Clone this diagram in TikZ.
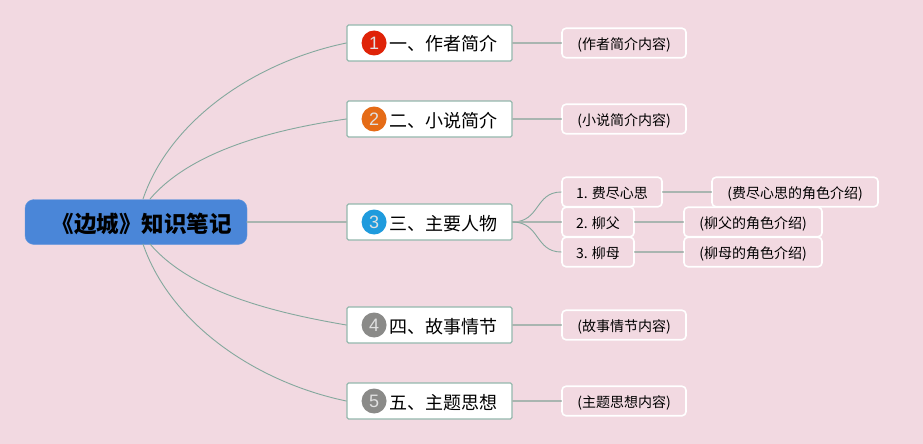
\documentclass[tikz,border=0pt]{standalone}
\usepackage{fontspec}
\setmainfont{Noto Sans CJK SC}
\newfontfamily\badgefont{Liberation Sans}
\usetikzlibrary{positioning}
\definecolor{bgpink}{HTML}{F2D9E1}
\definecolor{rootblue}{HTML}{4A86D8}
\definecolor{curvegray}{HTML}{84A89D}
\definecolor{edgegray}{HTML}{A9B5B0}
\definecolor{topicedge}{HTML}{94B8AD}
\definecolor{badgered}{HTML}{DF2308}
\definecolor{badgeorange}{HTML}{E56B16}
\definecolor{badgeblue}{HTML}{1F9BDD}
\definecolor{badgegray}{HTML}{8A8A88}
\tikzset{
	rootnode/.style={fill=rootblue,draw=rootblue!85!white,rounded corners=9pt,minimum width=222pt,minimum height=45pt,inner sep=0pt,text height=23pt,text depth=2pt,font=\fontsize{22.5}{25}\selectfont\bfseries},
	topicnode/.style={fill=white,draw=topicedge,line width=1.3pt,rounded corners=1.5pt,minimum width=165pt,minimum height=36pt,inner sep=0pt,text height=18pt,text depth=2pt,font=\fontsize{18}{20}\selectfont},
	detailnode/.style={draw=white,line width=1.6pt,rounded corners=4pt,minimum height=29.5pt,inner sep=0pt,text height=15pt,text depth=2pt,font=\fontsize{14}{16}\selectfont},
	badge/.style={circle,minimum size=25pt,inner sep=0pt,text=white!88!black,font=\fontsize{18}{20}\badgefont},
	curveline/.style={draw=curvegray,line width=.9pt},
	edgeline/.style={draw=edgegray,line width=1.5pt}
}
\begin{document}
\begin{tikzpicture}[line cap=round,line join=round,x=1pt,y=-1pt]
	\useasboundingbox[fill=bgpink] (0,0) rectangle (923,444);
	\node[rootnode] (root) at (136,222) {\hspace*{11pt}《边城》知识笔记};
	\coordinate (rootup) at (143,199);
	\coordinate (rootupb) at (150,199);
	\coordinate (rootdown) at (143,244);
	\coordinate (rootdownb) at (150,244);
	% topics
	\node[topicnode] (author) at (429.5,43) {\hspace*{27pt}一、作者简介};
	\node[topicnode] (novel) at (429.5,119) {\hspace*{27pt}二、小说简介};
	\node[topicnode] (people) at (429.5,222) {\hspace*{27pt}三、主要人物};
	\node[topicnode] (story) at (429.5,325) {\hspace*{27pt}四、故事情节};
	\node[topicnode] (theme) at (429.5,401) {\hspace*{27pt}五、主题思想};
	\node[badge,fill=badgered,right=15pt of author.west] (one) {1};
	\node[badge,fill=badgeorange,right=15pt of novel.west] (two) {2};
	\node[badge,fill=badgeblue,right=15pt of people.west] (three) {3};
	\node[badge,fill=badgegray,right=15pt of story.west] (four) {4};
	\node[badge,fill=badgegray,right=15pt of theme.west] (five) {5};
	% details
	\node[detailnode,minimum width=124pt] (authorinfo) at (624,43) {(作者简介内容)};
	\node[detailnode,minimum width=124pt] (novelinfo) at (624,119) {(小说简介内容)};
	\node[detailnode,minimum width=124pt] (storyinfo) at (624,325) {(故事情节内容)};
	\node[detailnode,minimum width=124pt] (themeinfo) at (624,401) {(主题思想内容)};
	\node[detailnode,minimum width=100pt] (fei) at (612,192) {1. 费尽心思};
	\node[detailnode,minimum width=72pt] (fu) at (598,222) {2. 柳父};
	\node[detailnode,minimum width=72pt] (mu) at (598,252) {3. 柳母};
	\node[detailnode,minimum width=166pt] (feiinfo) at (795,192) {(费尽心思的角色介绍)};
	\node[detailnode,minimum width=138pt] (fuinfo) at (753,222) {(柳父的角色介绍)};
	\node[detailnode,minimum width=138pt] (muinfo) at (753,252) {(柳母的角色介绍)};
	% connectors
	\draw[curveline] (rootup) .. controls (170,120) and (255,62) .. (author.west);
	\draw[curveline] (rootupb) .. controls (190,152) and (270,130) .. (novel.west);
	\draw[edgeline] (root.east) -- (people.west);
	\draw[curveline] (rootdownb) .. controls (190,291) and (270,312) .. (story.west);
	\draw[curveline] (rootdown) .. controls (170,323) and (255,382) .. (theme.west);
	\draw[edgeline] (author.east) -- (authorinfo.west);
	\draw[edgeline] (novel.east) -- (novelinfo.west);
	\draw[edgeline] (story.east) -- (storyinfo.west);
	\draw[edgeline] (theme.east) -- (themeinfo.west);
	\draw[curveline] (people.east) .. controls (540,222) and (535,192) .. (fei.west);
	\draw[edgeline] (people.east) -- (fu.west);
	\draw[curveline] (people.east) .. controls (540,222) and (535,252) .. (mu.west);
	\draw[edgeline] (fei.east) -- (feiinfo.west);
	\draw[edgeline] (fu.east) -- (fuinfo.west);
	\draw[edgeline] (mu.east) -- (muinfo.west);
\end{tikzpicture}
\end{document}
